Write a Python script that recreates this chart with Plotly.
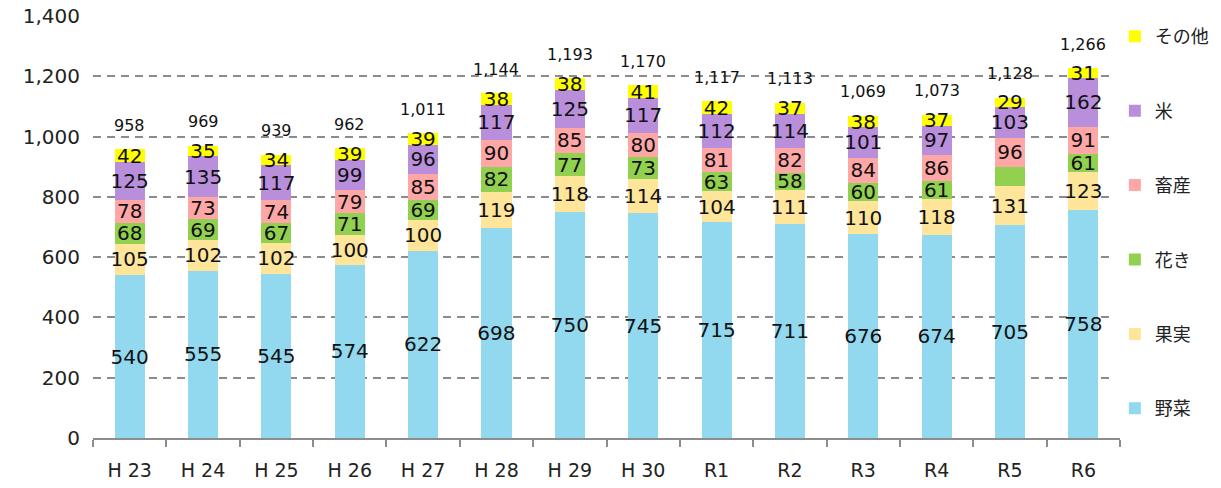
import plotly.graph_objects as go

categories = ["H 23", "H 24", "H 25", "H 26", "H 27", "H 28", "H 29", "H 30", "R1", "R2", "R3", "R4", "R5", "R6"]
yasai = [540, 555, 545, 574, 622, 698, 750, 745, 715, 711, 676, 674, 705, 758]
kajitsu = [105, 102, 102, 100, 100, 119, 118, 114, 104, 111, 110, 118, 131, 123]
kaki = [68, 69, 67, 71, 69, 82, 77, 73, 63, 58, 60, 61, 64, 61]
chikusan = [78, 73, 74, 79, 85, 90, 85, 80, 81, 82, 84, 86, 96, 91]
kome = [125, 135, 117, 99, 96, 117, 125, 117, 112, 114, 101, 97, 103, 162]
sonota = [42, 35, 34, 39, 39, 38, 38, 41, 42, 37, 38, 37, 29, 31]
totals = [958, 969, 939, 962, 1011, 1144, 1193, 1170, 1117, 1113, 1069, 1073, 1128, 1266]
kaki_labels = ["68", "69", "67", "71", "69", "82", "77", "73", "63", "58", "60", "61", "", "61"]

series = [
    ("野菜", yasai, "#92D8EF", None),
    ("果実", kajitsu, "#FFE59A", None),
    ("花き", kaki, "#92D050", kaki_labels),
    ("畜産", chikusan, "#FFA6A6", None),
    ("米", kome, "#B98FDC", None),
    ("その他", sonota, "#FFFF00", None),
]

fig = go.Figure()
for i, (name, vals, color, labels) in enumerate(series):
    fig.add_trace(go.Bar(
        name=name, x=categories, y=vals,
        marker=dict(color=color, line=dict(width=0)),
        text=labels if labels is not None else [str(v) for v in vals],
        textposition="inside", insidetextanchor="middle",
        textangle=0, constraintext="none",
        textfont=dict(size=20, color="#111", family="DejaVu Sans"),
        legendgroup=name, legendrank=100 - i,
    ))

stack_tops = [sum(v) for v in zip(yasai, kajitsu, kaki, chikusan, kome, sonota)]
for c, top, t in zip(categories, stack_tops, totals):
    fig.add_annotation(x=c, y=top, text=f"{t:,}", showarrow=False, yshift=24,
                       font=dict(size=16, color="#111", family="DejaVu Sans"))

# page body has an 8px margin, so the figure is sized to fit the 1221x488 window
fig.update_layout(
    barmode="stack", bargap=0.59,
    width=1213, height=480,
    margin=dict(l=85, r=101, t=8, b=50, autoexpand=False),
    plot_bgcolor="white", paper_bgcolor="white",
    font=dict(family="DejaVu Sans, Noto Sans CJK JP", color="#222"),
    legend=dict(traceorder="grouped", x=0.995, y=0.995, xanchor="left", yanchor="top",
                font=dict(size=18, family="Noto Sans CJK JP"), tracegroupgap=48,
                itemwidth=30),
    showlegend=True,
)
fig.update_yaxes(range=[0, 1400], dtick=200, tickformat=",", showgrid=True,
                 gridcolor="#8c8c8c", griddash="8px,6px", gridwidth=2,
                 zeroline=False, showline=False, ticks="", automargin=False,
                 ticklabeloverflow="allow",
                 tickfont=dict(size=20, family="DejaVu Sans", color="#222"), ticklabelstandoff=12)
fig.update_xaxes(showline=True, linecolor="#8c8c8c", linewidth=2, ticks="outside",
                 tickson="boundaries", ticklen=7, tickcolor="#8c8c8c", tickwidth=2, automargin=False,
                 tickfont=dict(size=19, family="DejaVu Sans, Noto Sans CJK JP", color="#222"),
                 ticklabelstandoff=14)

fig.write_html("out.html")
